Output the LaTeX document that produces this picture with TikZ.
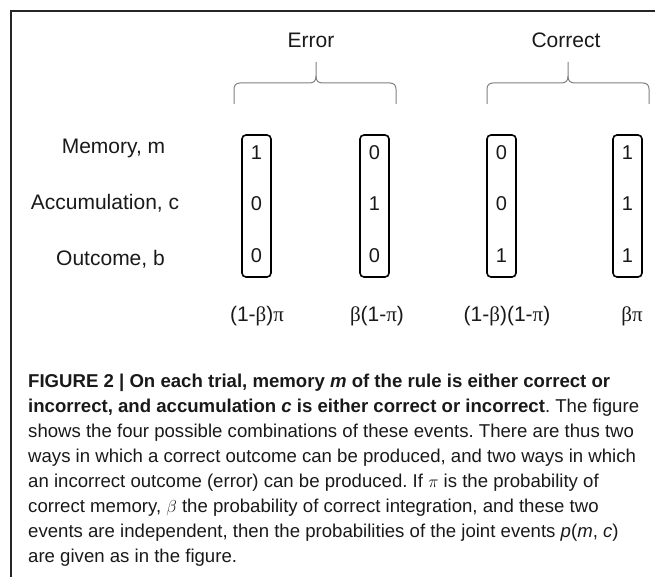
\documentclass[tikz,border=0pt]{standalone}
\usepackage{fontspec}
\setmainfont{Liberation Sans}
\newfontfamily\greekf{Liberation Serif}
\newcommand\mybrace[3]{%
  \draw[bracestyle] (#1,104) -- (#1,89) .. controls (#1,85.5) and (#1+2,83) .. (#1+6,83)
    -- (#2-7,83) .. controls (#2-2,83) and (#2,81) .. (#2,76) -- (#2,62);
  \draw[bracestyle] (#2,76) .. controls (#2,81) and (#2+2,83) .. (#2+7,83)
    -- (#3-6,83) .. controls (#3-2,83) and (#3,85.5) .. (#3,89) -- (#3,104);}
\frenchspacing
\begin{document}
\begin{tikzpicture}[x=1pt,y=-1pt,
  lab/.style={font=\fontsize{21}{25}\selectfont, inner sep=0pt, anchor=base, text=black!90},
  val/.style={font=\fontsize{20}{24}\selectfont, inner sep=0pt, anchor=base, text=black!90},
  vecbox/.style={draw=black, line width=1.6pt, rounded corners=4pt, minimum width=29pt, minimum height=142pt, inner sep=0pt},
  bracestyle/.style={draw=black!50, line width=1pt},
  framestyle/.style={draw=black!85, line width=1.3pt},
  captionstyle/.style={font=\fontsize{18.6}{25}\selectfont, inner sep=0pt, anchor=north west, align=left, text=black!90}]
\useasboundingbox (0,0) rectangle (655,577);
% frame
\draw[framestyle] (655,11) -- (11,11) -- (11,577);
% group labels and braces
\node[lab] (err) at (311,47.7) {Error};
\node[lab] (cor) at (566,47.7) {Correct};
\mybrace{234}{316}{396}
\mybrace{487}{568}{649}
% row labels
\node[lab] (mem) at (113.5,153.3) {Memory, m};
\node[lab] (acc) at (105,209.2) {Accumulation, c};
\node[lab] (out) at (110.5,265.5) {Outcome, b};
% vectors
\node[vecbox] (v1) at (256.5,206) {};
\node[vecbox] (v2) at (374.5,206) {};
\node[vecbox] (v3) at (501.5,206) {};
\node[vecbox] (v4) at (627.5,206) {};
\node[val] (v1m) at (256.5,160) {1};
\node[val] (v1c) at (256.5,211) {0};
\node[val] (v1b) at (256.5,262) {0};
\node[val] (v2m) at (374.5,160) {0};
\node[val] (v2c) at (374.5,211) {1};
\node[val] (v2b) at (374.5,262) {0};
\node[val] (v3m) at (501.5,160) {0};
\node[val] (v3c) at (501.5,211) {0};
\node[val] (v3b) at (501.5,262) {1};
\node[val] (v4m) at (627.5,160) {1};
\node[val] (v4c) at (627.5,211) {1};
\node[val] (v4b) at (627.5,262) {1};
% probabilities
\node[lab] (p1) at (257,321) {(1-{\greekf β})\greekf π};
\node[lab] (p2) at (377,321) {{\greekf β}(1-{\greekf π})};
\node[lab] (p3) at (507,321) {(1-{\greekf β})(1-{\greekf π})};
\node[lab] (p4) at (632,321) {\greekf βπ};
% caption
\node[captionstyle] (cap) at (28,373.5) {%
\textbf{FIGURE 2 | On each trial, memory \textit{m} of the rule is either correct or}\\
\textbf{incorrect, and accumulation \textit{c} is either correct or incorrect}. The figure\\
shows the four possible combinations of these events. There are thus two\\
ways in which a correct outcome can be produced, and two ways in which\\
an incorrect outcome (error) can be produced. If $\pi$ is the probability of\\
correct memory, $\beta$ the probability of correct integration, and these two\\
events are independent, then the probabilities of the joint events \textit{p}(\textit{m}, \textit{c})\\
are given as in the figure.};
\end{tikzpicture}
\end{document}
